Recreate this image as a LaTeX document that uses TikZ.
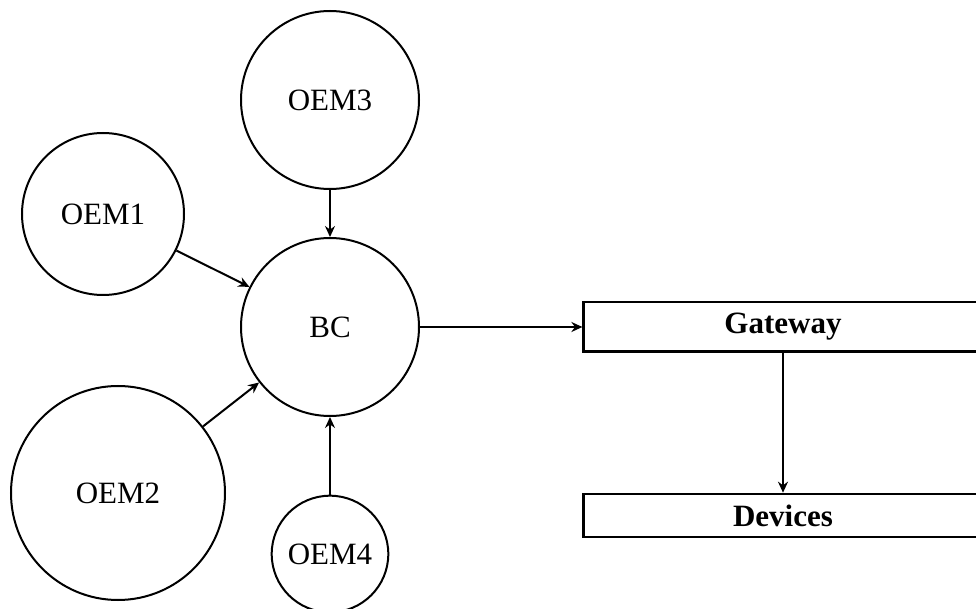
\documentclass[tikz,border=0pt]{standalone}
\usepackage{fontspec}
\setmainfont{Liberation Serif}
\usetikzlibrary{arrows.meta}
\begin{document}
\begin{tikzpicture}[x=0.5pt,y=-0.5pt,
  unit/.style={circle,draw,line width=1pt,inner sep=0pt,
    font=\fontsize{15.5}{18}\selectfont},
  block/.style={rectangle,draw,line width=1.3pt,minimum width=199.3pt,inner sep=0pt,
    font=\bfseries\fontsize{15.5}{18}\selectfont},
  link/.style={line width=1pt,-{Stealth[length=5.5pt,width=5pt,inset=1.8pt]}}]
\useasboundingbox (0,0) rectangle (976,609);
\clip (0,0) rectangle (976,609);

% participants
\node[unit,minimum size=89pt]   (oem3) at (330,100)   {OEM3};
\node[unit,minimum size=81pt]   (oem1) at (103,214)   {OEM1};
\node[unit,minimum size=89pt]   (bc)   at (330,327)   {BC};
\node[unit,minimum size=107pt]  (oem2) at (118,493)   {OEM2};
\node[unit,minimum size=58.3pt] (oem4) at (330,554)   {OEM4};

% gateway and devices
\node[block,minimum height=24.8pt] (gw)  at (783,327)   {Gateway};
\node[block,minimum height=21.5pt] (dev) at (783,515.5) {Devices};

% flows
\draw[link] (oem3) -- (bc);
\draw[link] (oem1) -- (bc);
\draw[link] (oem2) -- (bc);
\draw[link] (oem4) -- (bc);
\draw[link] (bc) -- (gw);
\draw[link] (gw) -- (dev);
\end{tikzpicture}
\end{document}
